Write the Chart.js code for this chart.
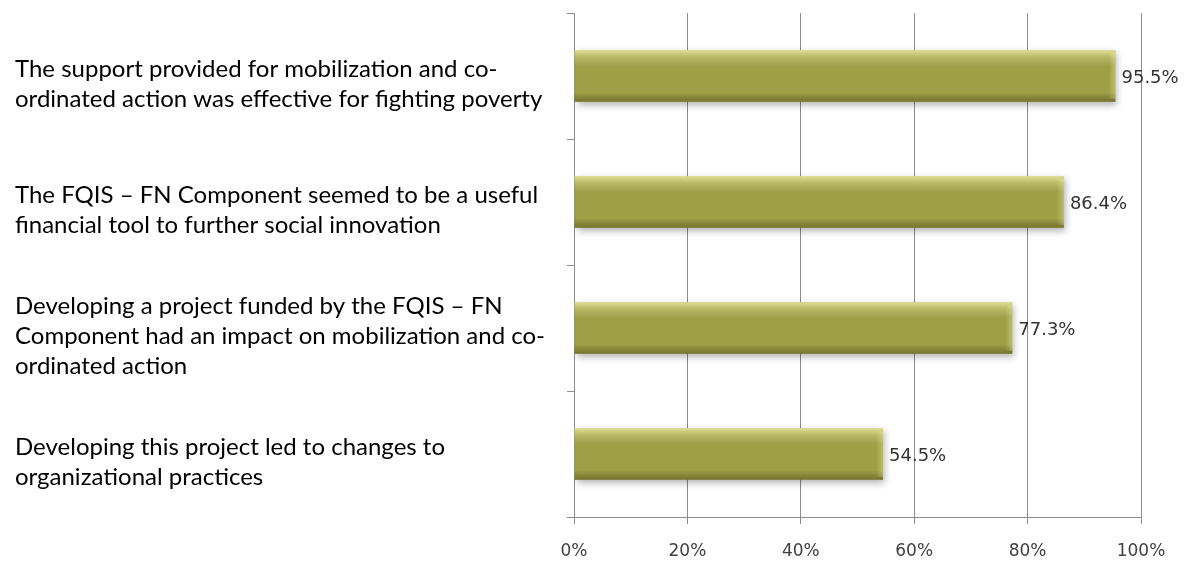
<!DOCTYPE html>
<html>
<head>
<meta charset="utf-8">
<script src="https://cdn.jsdelivr.net/npm/chart.js@4"></script>
<style>
  html, body { margin: 0; padding: 0; background: #fff; }
  #wrap { width: 1193px; height: 561px; }
</style>
</head>
<body>
<div id="wrap"><canvas id="myChart"></canvas></div>
<script>
// ---------------- data ----------------
var statements = [
    ["The support provided for mobilization and co-", "ordinated action was effective for fighting poverty"],
    ["The FQIS \u2013 FN Component seemed to be a useful", "financial tool to further social innovation"],
    ["Developing a project funded by the FQIS \u2013 FN", "Component had an impact on mobilization and co-", "ordinated action"],
    ["Developing this project led to changes to", "organizational practices"]
];
var agreePct = [95.5, 86.4, 77.3, 54.5];
var pctTicks = [0, 20, 40, 60, 80, 100];

var barColor = "#9fa046";
var gridColor = "#8c8c8c";

// shadow under the bars, like the office chart bevel look
var barShadow = {
    id: "barShadow",
    beforeDatasetsDraw: function (chart) {
        var ctx = chart.ctx;
        ctx.save();
        ctx.shadowColor = "rgba(0,0,0,0.3)";
        ctx.shadowBlur = 7;
        ctx.shadowOffsetX = 2;
        ctx.shadowOffsetY = 3;
    },
    afterDatasetsDraw: function (chart) {
        var ctx = chart.ctx;
        ctx.restore();

        // bevel shading + value labels
        var meta = chart.getDatasetMeta(0);
        meta.data.forEach(function (bar, i) {
            var left = Math.min(bar.base, bar.x);
            var w = Math.abs(bar.x - bar.base);
            var top = bar.y - bar.height / 2;
            var h = bar.height;

            var g = ctx.createLinearGradient(0, top, 0, top + h);
            g.addColorStop(0, "rgba(255,255,190,0.65)");
            g.addColorStop(0.14, "rgba(255,255,190,0.25)");
            g.addColorStop(0.3, "rgba(255,255,255,0)");
            g.addColorStop(0.82, "rgba(0,0,0,0)");
            g.addColorStop(1, "rgba(40,40,0,0.35)");
            ctx.save();
            ctx.fillStyle = g;
            ctx.fillRect(left, top, w, h);

            // right end bevel
            var g2 = ctx.createLinearGradient(bar.x - 7, 0, bar.x, 0);
            g2.addColorStop(0, "rgba(255,255,200,0)");
            g2.addColorStop(1, "rgba(255,255,200,0.3)");
            ctx.fillStyle = g2;
            ctx.fillRect(bar.x - 7, top + 3, 7, h - 6);

            // value label
            ctx.fillStyle = "#333333";
            ctx.font = "18px 'DejaVu Sans'";
            ctx.textAlign = "left";
            ctx.textBaseline = "middle";
            ctx.fillText(agreePct[i].toFixed(1) + "%", bar.x + 6, bar.y + 2);
            ctx.restore();
        });
    }
};

new Chart("myChart", {
    type: "bar",
    data: {
        labels: statements,
        datasets: [{
            data: agreePct,
            backgroundColor: barColor,
            borderWidth: 0,
            barPercentage: 0.41,
            categoryPercentage: 1.0
        }]
    },
    options: {
        indexAxis: "y",
        responsive: true,
        maintainAspectRatio: false,
        animation: false,
        layout: { padding: { left: 15, right: 52, top: 13, bottom: 0 } },
        plugins: {
            legend: { display: false },
            tooltip: { enabled: false }
        },
        scales: {
            x: {
                min: 0,
                max: 100,
                afterBuildTicks: function (scale) {
                    scale.ticks = pctTicks.map(function (v) { return { value: v }; });
                },
                afterFit: function (scale) {
                    scale.height = 44;
                    scale.paddingLeft = 0;
                    scale.paddingRight = 0;
                },
                grid: { color: gridColor, lineWidth: 1, tickLength: 7 },
                border: { color: gridColor },
                ticks: {
                    color: "#404040",
                    font: { family: "'DejaVu Sans'", size: 17 },
                    padding: 17,
                    maxRotation: 0,
                    callback: function (v) { return v + "%"; }
                }
            },
            y: {
                grid: { drawOnChartArea: false, color: gridColor, tickLength: 7, offset: true },
                border: { color: gridColor },
                afterFit: function (scale) {
                    scale.width = 559;
                    scale.paddingTop = 0;
                    scale.paddingBottom = 0;
                },
                ticks: {
                    crossAlign: "far",
                    labelOffset: 8,
                    color: "#000000",
                    font: { family: "Lato", size: 24, lineHeight: 1.25 }
                }
            }
        }
    },
    plugins: [barShadow]
});
</script>
</body>
</html>
